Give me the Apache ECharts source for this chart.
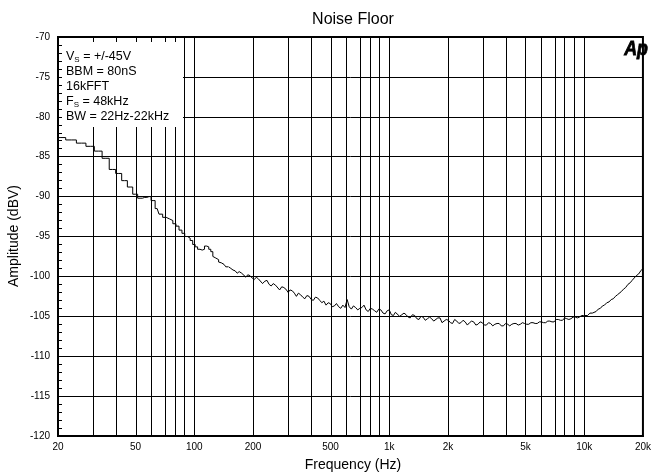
<!DOCTYPE html>
<html>
<head>
<meta charset="utf-8">
<script src="https://cdn.jsdelivr.net/npm/echarts@6/dist/echarts.min.js"></script>
<style>
html,body{margin:0;padding:0;background:#fff;}
#chart{width:654px;height:476px;}
</style>
</head>
<body>
<div id="chart"></div>
<script>
// ---- data ----
const xTickFreqs = [20, 50, 100, 200, 500, 1000, 2000, 5000, 10000, 20000];
const xTickLabels = ['20', '50', '100', '200', '500', '1k', '2k', '5k', '10k', '20k'];
const gridFreqs = [30, 40, 50, 60, 70, 80, 90, 100, 200, 300, 400, 500, 600, 700, 800, 900, 1000,
  2000, 3000, 4000, 5000, 6000, 7000, 8000, 9000, 10000];

// low-frequency FFT bins (drawn as steps)
const stepFreqs = [20, 20.5, 23.4, 26.4, 29.3, 32.2, 35.2, 38.1, 41.0, 43.9, 46.9, 49.8, 52.7, 55.7,
  58.6, 61.5, 64.5, 67.4, 70.3, 73.2, 76.2, 79.1, 82.0, 85.0, 87.9, 90.8, 93.8, 96.7, 99.6,
  102.5, 105.5, 108.4, 111.3, 114.3, 117.2, 120.1, 123.0, 126.0, 128.9, 131.8, 134.8, 137.7,
  140.6, 143.6, 146.5, 149.4];
const stepDb = [-82.6, -82.6, -82.9, -83.3, -83.7, -84.3, -85.2, -86.6, -87.1, -88.0, -88.8, -89.7, -90.2, -90.1,
  -90.0, -90.5, -91.5, -92.2, -92.6, -92.8, -93.0, -93.4, -93.7, -94.2, -94.6, -95.0, -95.2, -95.5, -96.0,
  -96.3, -96.6, -96.7, -96.6, -96.2, -96.3, -96.6, -96.9, -97.5, -97.7, -97.9, -98.2, -98.3,
  -98.5, -98.6, -98.8, -98.8];

// higher frequencies
const lineFreqs = [150, 154, 158, 162, 166, 170, 175, 179, 184, 188, 193, 198, 203, 208, 213, 218, 224, 230,
  236, 242, 248, 254, 261, 267, 274, 281, 288, 295, 303, 310, 318, 326, 334, 342, 351, 360, 369, 378,
  388, 398, 408, 418, 429, 440, 451, 462, 474, 486, 498, 510, 523, 536, 550, 564, 578, 593, 608, 623,
  639, 655, 672, 689, 706, 724, 742, 761, 780, 800, 820, 841, 862, 884, 906, 929, 952, 976,
  1000, 1025, 1050, 1075, 1100, 1130, 1160, 1190, 1220, 1250, 1280, 1315, 1350, 1385, 1420, 1455,
  1490, 1530, 1570, 1610, 1650, 1690, 1730, 1775, 1820, 1865, 1910, 1960, 2010, 2060, 2110, 2165,
  2220, 2275, 2330, 2390, 2450, 2515, 2580, 2645, 2710, 2780, 2850, 2925, 3000, 3075, 3150, 3230,
  3310, 3395, 3480, 3570, 3660, 3755, 3850, 3950, 4050, 4150, 4250, 4360, 4470, 4585, 4700, 4820,
  4940, 5065, 5190, 5325, 5460, 5600, 5740, 5885, 6030, 6185, 6340, 6500, 6660, 6830, 7000, 7180,
  7360, 7550, 7740, 7935, 8130, 8340, 8550, 8770, 8990, 9220, 9450, 9690, 9930, 10150, 10400, 10700,
  11000, 11250, 11500, 11800, 12100, 12400, 12700, 13050, 13400, 13750, 14100, 14450, 14800, 15150,
  15500, 15900, 16300, 16750, 17200, 17600, 18000, 18500, 19000, 19500, 20000];
const lineDb = [-98.8, -99.0, -99.2, -99.3, -99.6, -99.4, -99.6, -99.8, -100.1, -99.8, -99.9, -100.2,
  -100.4, -100.1, -100.3, -100.5, -100.9, -100.6, -100.5, -101.0, -101.2, -100.9, -101.1, -101.3,
  -101.7, -101.3, -101.4, -101.6, -102.0, -101.7, -101.8, -102.1, -102.5, -102.1, -102.3, -102.6,
  -102.8, -102.4, -102.5, -102.9, -103.0, -102.6, -102.7, -103.0, -103.3, -103.1, -103.6, -103.3,
  -103.4, -103.8, -103.7, -103.4, -103.8, -104.0, -103.6, -103.9, -102.9, -103.8, -104.1, -103.7,
  -103.9, -104.2, -104.0, -103.9, -103.6, -104.2, -104.4, -104.0, -104.1, -104.3, -104.5, -104.1,
  -104.2, -104.6, -104.7, -104.3, -104.2, -104.8, -104.9, -104.5, -104.4, -105.0, -104.8, -104.6,
  -104.8, -105.1, -105.2, -104.8, -104.9, -105.3, -105.4, -105.0, -105.1, -105.5, -105.3, -105.1,
  -105.3, -105.6, -105.6, -105.2, -105.2, -105.8, -105.6, -105.4, -105.5, -105.8, -105.9, -105.4,
  -105.6, -105.9, -105.8, -105.5, -105.7, -106.1, -105.8, -105.6, -105.7, -106.1, -106.0, -105.7,
  -105.8, -106.1, -106.1, -105.8, -105.9, -106.2, -106.0, -105.9, -105.9, -106.2, -106.2, -105.9,
  -106.0, -106.2, -106.0, -105.9, -105.9, -106.1, -106.0, -105.8, -105.9, -106.0, -106.0, -105.8,
  -105.8, -105.9, -105.9, -105.7, -105.7, -105.8, -105.8, -105.6, -105.6, -105.7, -105.7, -105.4,
  -105.4, -105.5, -105.5, -105.2, -105.3, -105.4, -105.3, -105.1, -105.1, -105.2, -105.1, -104.9,
  -104.9, -104.8, -104.9, -104.6, -104.6, -104.4, -104.4, -104.1, -104.0, -103.7, -103.6, -103.3,
  -103.2, -102.9, -102.8, -102.5, -102.3, -102.1, -101.9, -101.6, -101.4, -101.0, -100.8, -100.5,
  -100.3, -99.9, -99.7, -99.3, -99.0];

const infoLines = ['V{s|S} = +/-45V', 'BBM = 80nS', '16kFFT', 'F{s|S} = 48kHz', 'BW = 22Hz-22kHz'];

// ---- chart ----
const lg = Math.log10;
const chart = echarts.init(document.getElementById('chart'), null, {renderer: 'canvas'});
const FONT = 'Liberation Sans, Arial, sans-serif';

const option = {
  animation: false,
  backgroundColor: '#fff',
  grid: {left: 58, right: 5, top: 37, bottom: 40, show: true, borderColor: '#000', borderWidth: 2},
  xAxis: {
    type: 'value', min: lg(20), max: lg(20000),
    axisLine: {show: true, lineStyle: {color: '#000', width: 2}},
    axisTick: {show: false},
    splitLine: {show: false},
    axisLabel: {
      customValues: xTickFreqs.map(lg),
      showMinLabel: true, showMaxLabel: true,
      alignMinLabel: 'center', alignMaxLabel: 'center',
      margin: 6, color: '#000', fontFamily: FONT, fontSize: 10,
      formatter: function (v) {
        let best = 0, d = 1e9;
        xTickFreqs.forEach(function (f, i) { const dd = Math.abs(lg(f) - v); if (dd < d) { d = dd; best = i; } });
        return xTickLabels[best];
      }
    }
  },
  yAxis: {
    type: 'value', min: -120, max: -70, interval: 5,
    axisLine: {show: true, lineStyle: {color: '#000', width: 1.5}},
    axisTick: {show: true, inside: true, length: 5, lineStyle: {color: '#000'}},
    minorTick: {show: true, splitNumber: 5, length: 4, lineStyle: {color: '#000'}},
    splitLine: {show: true, lineStyle: {color: '#000', width: 1}},
    axisLabel: {margin: 8, color: '#000', fontFamily: FONT, fontSize: 10}
  },
  series: [
    {
      type: 'line', step: 'middle', showSymbol: false, silent: true,
      data: stepFreqs.map(function (f, i) { return [lg(f), stepDb[i]]; }),
      lineStyle: {color: '#000', width: 1},
      markLine: {
        silent: true, symbol: ['none', 'none'], animation: false,
        label: {show: false},
        lineStyle: {color: '#000', width: 1, type: 'solid'},
        emphasis: {disabled: true},
        data: gridFreqs.map(function (f) { return {xAxis: lg(f)}; })
      }
    },
    {
      type: 'line', showSymbol: false, silent: true,
      data: lineFreqs.map(function (f, i) { return [lg(f), lineDb[i]]; }),
      lineStyle: {color: '#000', width: 1}
    }
  ],
  graphic: [
    {type: 'text', x: 353, y: 20, z: 100,
      style: {text: 'Noise Floor', font: '16px ' + FONT, fill: '#000', align: 'center', verticalAlign: 'middle'}},
    {type: 'text', x: 14, y: 236, rotation: Math.PI / 2, z: 100,
      style: {text: 'Amplitude (dBV)', font: '14px ' + FONT, fill: '#000', align: 'center', verticalAlign: 'middle'}},
    {type: 'text', x: 353, y: 465, z: 100,
      style: {text: 'Frequency (Hz)', font: '14px ' + FONT, fill: '#000', align: 'center', verticalAlign: 'middle'}},
    {type: 'rect', z: 100, shape: {x: 62, y: 42, width: 121, height: 85}, style: {fill: '#fff', stroke: null}},
    {type: 'text', x: 66, y: 49, z: 101,
      style: {
        text: infoLines.join('\n'), font: '12.5px ' + FONT, fill: '#000', lineHeight: 15,
        rich: {s: {fontSize: 8, fontFamily: FONT, lineHeight: 15, verticalAlign: 'bottom'}}
      }},
    {type: 'text', x: 648, y: 39, z: 101, scaleX: 0.85,
      style: {text: 'Ap', font: 'italic 900 21px ' + FONT, fill: '#000', align: 'right', verticalAlign: 'top',
        stroke: '#000', lineWidth: 0.8}}
  ]
};
chart.setOption(option);
</script>
</body>
</html>
